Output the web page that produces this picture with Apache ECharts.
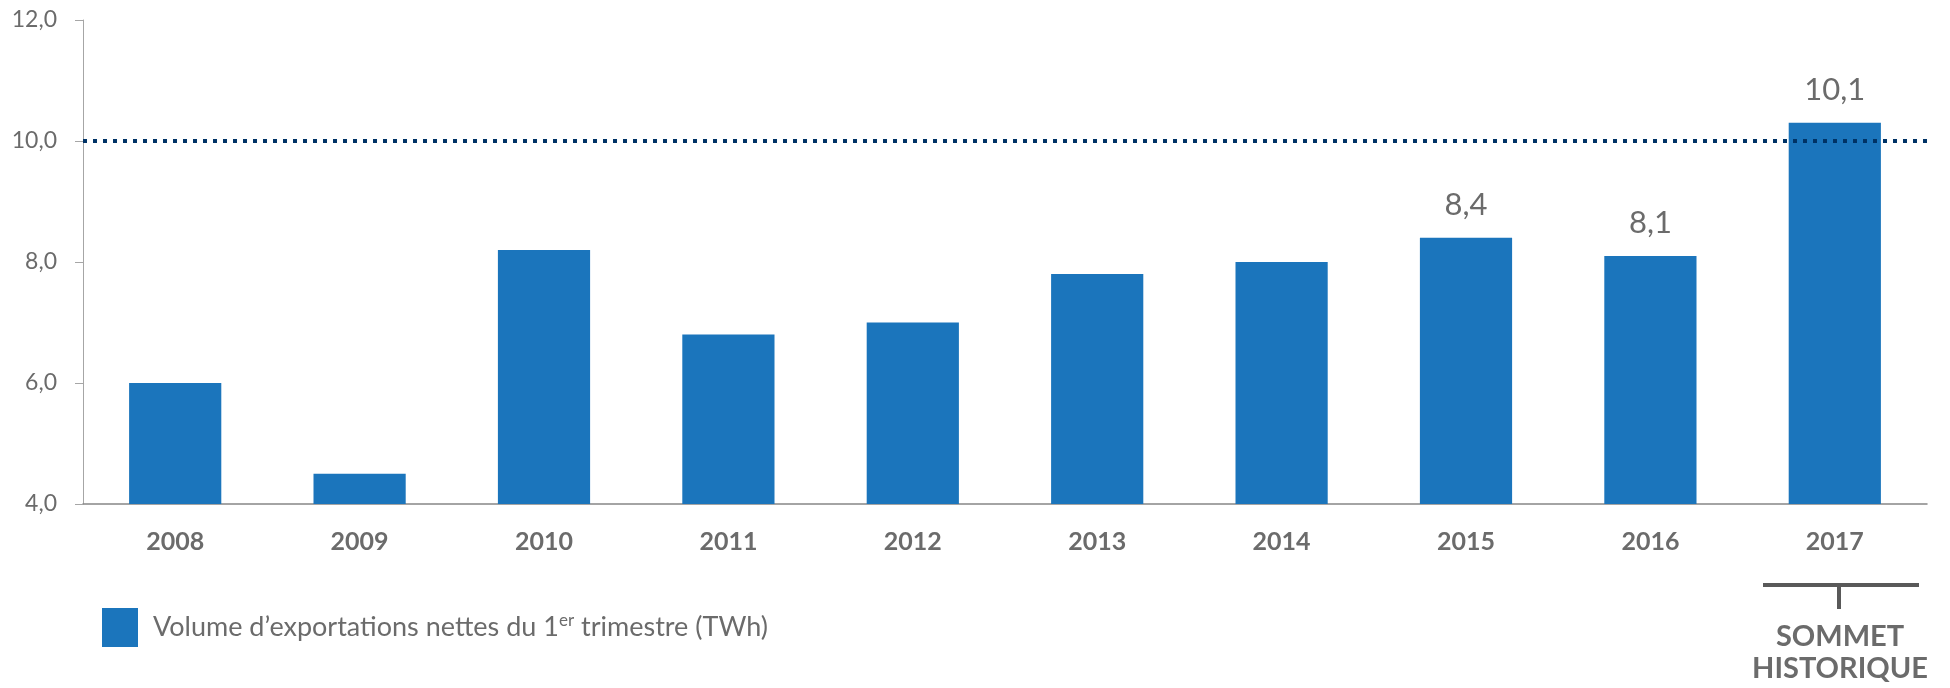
<!DOCTYPE html>
<html>
<head>
<meta charset="utf-8">
<script src="https://cdn.jsdelivr.net/npm/echarts@6/dist/echarts.min.js"></script>
<style>
  html, body { margin: 0; padding: 0; background: #fff; }
  #chart { width: 1950px; height: 688px; }
</style>
</head>
<body>
<div id="chart"></div>
<script>
// données
const years = ['2008', '2009', '2010', '2011', '2012', '2013', '2014', '2015', '2016', '2017']
const exportsTWh = [6.0, 4.5, 8.2, 6.8, 7.0, 7.8, 8.0, 8.4, 8.1, 10.3]
const barLabels = ['', '', '', '', '', '', '', '8,4', '8,1', '10,1']
const yTicks = [4, 6, 8, 10, 12]
const refLevel = 10
const seriesName = 'Volume d’exportations nettes du 1er trimestre (TWh)'

const font = 'Lato, "Open Sans", sans-serif'
const grey = '#6b6b6b'

const chart = echarts.init(document.getElementById('chart'))
chart.setOption({
  animation: false,
  textStyle: { fontFamily: font },
  grid: { left: 83, right: 23, top: 20, bottom: 184 },
  legend: {
    left: 97,
    top: 603,
    icon: 'rect',
    itemWidth: 36,
    itemHeight: 39,
    data: [seriesName],
    formatter: function () {
      return '{t|Volume d’exportations nettes du 1}{sup|er}{t| trimestre (TWh)}'
    },
    textStyle: {
      padding: [0, 0, 0, 10],
      rich: {
        t: { fontSize: 27, color: grey, fontFamily: font },
        sup: { fontSize: 17, color: grey, fontFamily: font, padding: [0, 0, 13, 0] }
      }
    }
  },
  xAxis: {
    type: 'category',
    data: years,
    axisLine: { lineStyle: { color: '#868686', width: 1.5 } },
    axisTick: { length: 9, lineStyle: { color: '#a6a6a6' } },
    axisLabel: { fontSize: 25, fontWeight: 'bold', color: grey, margin: 25 }
  },
  yAxis: {
    type: 'value',
    min: yTicks[0],
    max: yTicks[yTicks.length - 1],
    interval: 2,
    splitLine: { show: false },
    axisLine: { show: true, lineStyle: { color: '#a6a6a6' } },
    axisTick: { show: true, length: 8, lineStyle: { color: '#a6a6a6' } },
    axisLabel: {
      fontSize: 23,
      color: grey,
      margin: 26,
      formatter: v => v.toFixed(1).replace('.', ',')
    }
  },
  series: [{
    name: seriesName,
    type: 'bar',
    data: exportsTWh,
    barWidth: '50%',
    itemStyle: { color: '#1b75bc' },
    label: {
      show: true,
      position: 'top',
      distance: 17,
      fontSize: 31,
      color: grey,
      formatter: p => barLabels[p.dataIndex]
    },
    markLine: {
      silent: true,
      symbol: 'none',
      label: { show: false },
      lineStyle: { color: '#003366', width: 4, type: [4, 6] },
      data: [{ yAxis: refLevel }]
    },
    z: 2
  }],
  graphic: [
    { type: 'line', shape: { x1: 1763, y1: 585, x2: 1919, y2: 585 }, style: { stroke: '#595959', lineWidth: 4 } },
    { type: 'line', shape: { x1: 1839, y1: 585, x2: 1839, y2: 609 }, style: { stroke: '#595959', lineWidth: 4 } },
    {
      type: 'text', x: 1840, y: 637,
      style: { text: 'SOMMET', fontSize: 29, fontWeight: 'bold', fill: grey, fontFamily: font, align: 'center', verticalAlign: 'middle' }
    },
    {
      type: 'text', x: 1840, y: 669,
      style: { text: 'HISTORIQUE', fontSize: 29, fontWeight: 'bold', fill: grey, fontFamily: font, align: 'center', verticalAlign: 'middle' }
    }
  ]
})
</script>
</body>
</html>
